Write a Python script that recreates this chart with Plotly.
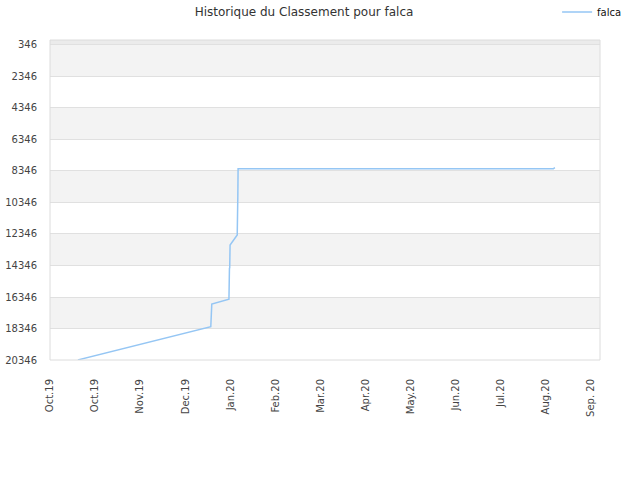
import plotly.graph_objects as go

# ranking history
dates = [
    "2019-10-19 14:00", "2020-01-16 00:00", "2020-01-16 16:00",
    "2020-01-28 02:00", "2020-01-28 10:00", "2020-01-28 14:00", "2020-01-28 20:00",
    "2020-02-02 14:00", "2020-02-03 00:00", "2020-02-03 04:00",
    "2020-05-05 00:00", "2020-08-31 00:00", "2020-09-01 00:00",
]
ranks = [
    20340, 18230, 16790,
    16480, 14520, 14500, 13050,
    12410, 9870, 8200,
    8200, 8200, 8140,
]

tick_dates = [
    "2019-10-01", "2019-10-31", "2019-11-30", "2019-12-30", "2020-01-29",
    "2020-02-28", "2020-03-29", "2020-04-28", "2020-05-28", "2020-06-27",
    "2020-07-27", "2020-08-26", "2020-09-25",
]
tick_labels = [
    "Oct.19", "Oct.19", "Nov.19", "Dec.19", "Jan.20", "Feb.20", "Mar.20",
    "Apr.20", "May.20", "Jun.20", "Jul.20", "Aug.20", "Sep. 20",
]
y_ticks = [346, 2346, 4346, 6346, 8346, 10346, 12346, 14346, 16346, 18346, 20346]

FONT = "DejaVu Sans"

fig = go.Figure()
fig.add_trace(go.Scatter(x=dates, y=ranks, mode="lines", name="falca",
                         line=dict(color="#95c6f4", width=1.5)))

# alternating grey bands between gridlines
shapes = [dict(type="rect", xref="paper", yref="y", x0=0, x1=1, y0=30, y1=346,
               fillcolor="#ebebeb", line_width=0, layer="below")]
for i in range(0, len(y_ticks) - 1, 2):
    shapes.append(dict(type="rect", xref="paper", yref="y", x0=0, x1=1,
                       y0=y_ticks[i], y1=y_ticks[i + 1],
                       fillcolor="#f3f3f3", line_width=0, layer="below"))
shapes.append(dict(type="rect", xref="paper", yref="paper", x0=0, x1=1, y0=0, y1=1,
                   line=dict(color="#dcdcdc", width=1)))

fig.update_layout(
    width=640, height=480,
    margin=dict(l=50, r=40, t=40, b=120, autoexpand=False),
    paper_bgcolor="white", plot_bgcolor="white",
    font=dict(family=FONT, size=10, color="#444"),
    title=dict(text="Historique du Classement pour falca", x=304 / 640, xref="container",
               xanchor="center", y=1 - 12 / 480, yanchor="middle",
               font=dict(family=FONT, size=12, color="#333")),
    legend=dict(x=0.922, y=1.0875, xanchor="left", yanchor="middle",
                font=dict(family=FONT, size=10, color="#111"),
                bgcolor="rgba(0,0,0,0)", itemwidth=30),
    showlegend=True,
    shapes=shapes,
)
fig.update_xaxes(range=["2019-10-01", "2020-10-01"], tickvals=tick_dates, ticktext=tick_labels,
                 tickangle=-90, showgrid=False, zeroline=False, ticks="outside", automargin=False,
                 ticklen=14, tickcolor="rgba(0,0,0,0)", tickfont=dict(size=10, color="#444"))
fig.update_yaxes(range=[20346, 30], tickvals=y_ticks, ticktext=[str(v) for v in y_ticks],
                 showgrid=True, gridcolor="#e0e0e0", automargin=False,
                 gridwidth=1, zeroline=False, ticks="outside", ticklen=10,
                 tickcolor="rgba(0,0,0,0)", tickfont=dict(size=10, color="#444"))

# drop the default 8px body margin so the figure sits at the window corner
fig.write_html("out.html", config={"displayModeBar": False},
               post_script="document.body.style.margin='0';")
